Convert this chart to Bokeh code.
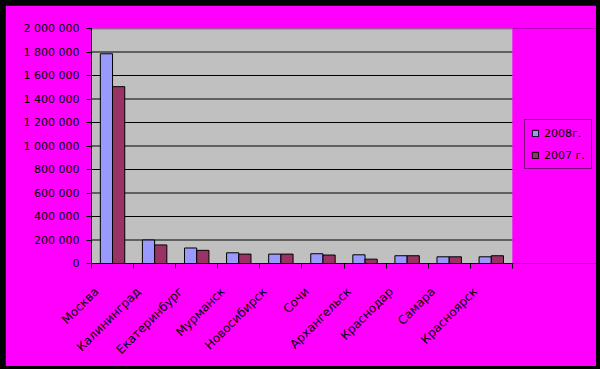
import math
from bokeh.plotting import figure
from bokeh.models import (ColumnDataSource, FixedTicker, Range1d, Legend, LegendItem,
                          BoxAnnotation)
from bokeh.transform import dodge
from bokeh.embed import file_html
from bokeh.resources import INLINE

cities = ["Москва", "Калининград", "Екатеринбург", "Мурманск", "Новосибирск",
          "Сочи", "Архангельск", "Краснодар", "Самара", "Красноярск"]
v2008 = [1785000, 200000, 132000, 91000, 80000, 83000, 74000, 66000, 57000, 57000]
v2007 = [1505000, 158000, 112000, 80000, 80000, 72000, 37000, 66000, 57000, 66000]
series_names = ["2008г.", "2007 г."]
y_ticks = [0, 200000, 400000, 600000, 800000, 1000000, 1200000, 1400000,
           1600000, 1800000, 2000000]
y_tick_labels = ["0", "200 000", "400 000", "600 000", "800 000", "1 000 000",
                 "1 200 000", "1 400 000", "1 600 000", "1 800 000", "2 000 000"]

n = len(cities)
centers = [i + 0.5 for i in range(n)]
source = ColumnDataSource(dict(x=centers, city=cities, v2008=v2008, v2007=v2007))

MAGENTA = "#FF00FF"
FONT = "DejaVu Sans"

# the frame also spans the legend area on the right (2 extra category widths)
p = figure(width=591, height=361, output_backend="svg", toolbar_location=None,
           x_range=Range1d(0, n + 2), y_range=Range1d(y_ticks[0], y_ticks[-1]),
           min_border_left=86, min_border_right=0, min_border_top=23,
           min_border_bottom=103)
p.margin = (5, 4, 3, 5)
p.background_fill_color = MAGENTA
p.border_fill_color = MAGENTA
p.outline_line_color = None

# grey plot area
p.add_layout(BoxAnnotation(left=0, right=n, fill_color="#C0C0C0", fill_alpha=1,
                           line_color=None, level="image"))

# horizontal gridlines limited to the plot area
inner = y_ticks[1:-1]
p.segment(x0=[0] * len(inner), x1=[n] * len(inner), y0=inner, y1=inner,
          line_color="black", line_width=1, level="underlay")
p.segment(x0=[0], x1=[n], y0=[y_ticks[-1]], y1=[y_ticks[-1]],
          line_color="#808080", line_width=2, level="underlay")

r1 = p.vbar(x=dodge("x", -0.145, range=p.x_range), top="v2008", width=0.29,
            source=source, fill_color="#9999FF", line_color="black", line_width=1)
r2 = p.vbar(x=dodge("x", 0.145, range=p.x_range), top="v2007", width=0.29,
            source=source, fill_color="#993366", line_color="black", line_width=1)

# y axis
p.yaxis.ticker = FixedTicker(ticks=y_ticks)
p.yaxis.major_label_overrides = {t: l for t, l in zip(y_ticks, y_tick_labels)}
p.yaxis.axis_line_color = "black"
p.yaxis.major_tick_line_color = "black"
p.yaxis.major_tick_in = 0
p.yaxis.major_tick_out = 5
p.yaxis.minor_tick_line_color = None
p.yaxis.major_label_standoff = 7
p.yaxis.major_label_text_font = FONT
p.yaxis.major_label_text_font_size = "11px"
p.yaxis.major_label_text_color = "black"

# x axis: labels slightly left of the centres, ticks at category boundaries
label_pos = [round(c - 0.38, 2) for c in centers]
p.xaxis.ticker = FixedTicker(ticks=label_pos, minor_ticks=list(range(n + 1)))
p.xaxis.major_label_overrides = {c: name for c, name in zip(label_pos, cities)}
p.xaxis.bounds = (0, n)
p.xaxis.major_tick_line_color = None
p.xaxis.minor_tick_line_color = "black"
p.xaxis.minor_tick_in = 0
p.xaxis.minor_tick_out = 5
p.xaxis.axis_line_color = "black"
p.xaxis.major_label_orientation = math.pi / 4
p.xaxis.major_label_standoff = 20
p.xaxis.major_label_text_font = FONT
p.xaxis.major_label_text_font_size = "12px"
p.xaxis.major_label_text_color = "black"

p.xgrid.grid_line_color = None
p.ygrid.grid_line_color = None

legend = Legend(items=[LegendItem(label=series_names[0], renderers=[r1]),
                       LegendItem(label=series_names[1], renderers=[r2])],
                location=(433, 94))
legend.background_fill_color = MAGENTA
legend.background_fill_alpha = 1
legend.border_line_color = "black"
legend.border_line_width = 1
legend.label_text_font = FONT
legend.label_text_font_size = "11px"
legend.label_text_color = "black"
legend.glyph_width = 8
legend.glyph_height = 8
legend.label_height = 14
legend.spacing = 8
legend.padding = 6
legend.margin = 0
legend.label_standoff = 5
p.add_layout(legend)

html = file_html(p, INLINE)
style = ("<style>html, body { margin: 0 !important; padding: 0 !important; "
         "background-color: #000000 !important; }</style>")
html = html.replace("</head>", style + "</head>", 1)
open("out.html", "w").write(html)
